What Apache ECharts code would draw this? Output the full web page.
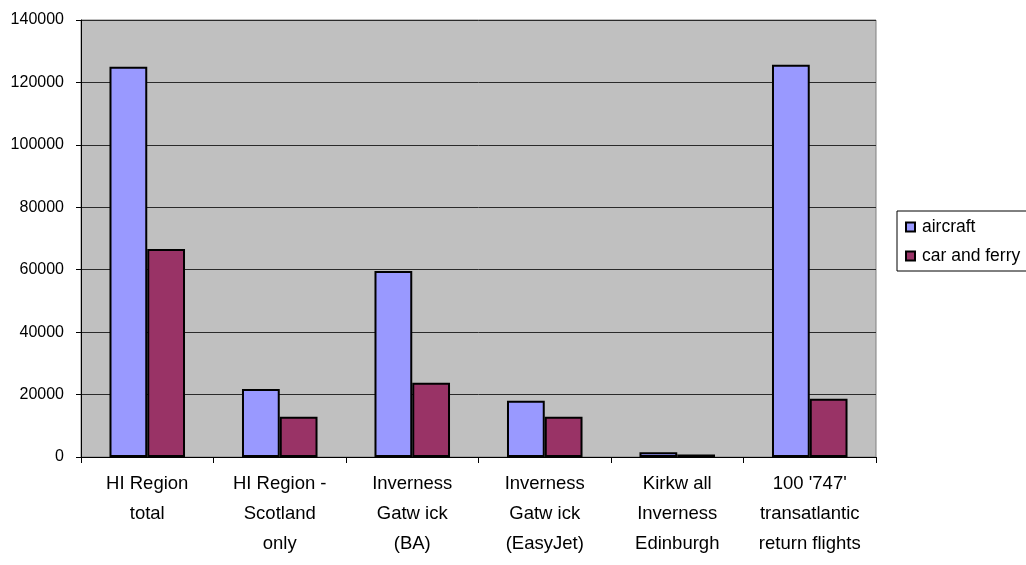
<!DOCTYPE html>
<html>
<head>
<meta charset="utf-8">
<script src="https://cdn.jsdelivr.net/npm/echarts@6/dist/echarts.min.js"></script>
<style>
  html, body { margin: 0; padding: 0; background: #fff; }
  #main { width: 1026px; height: 565px; }
</style>
</head>
<body>
<div id="main"></div>
<script>
// categories as shown under the axis
const categories = [
  'HI Region\ntotal',
  'HI Region -\nScotland\nonly',
  'Inverness\nGatw ick\n(BA)',
  'Inverness\nGatw ick\n(EasyJet)',
  'Kirkw all\nInverness\nEdinburgh',
  "100 '747'\ntransatlantic\nreturn flights"
];
const aircraft = [125000, 21800, 59600, 18000, 1500, 125700];
const carAndFerry = [66600, 12900, 23800, 12900, 800, 18700];
const yTicks = { min: 0, max: 140000, step: 20000 };

const myChart = echarts.init(document.getElementById('main'));

const option = {
  animation: false,
  textStyle: { fontFamily: 'Liberation Sans, Arial, sans-serif', color: '#000' },
  grid: {
    left: 81,
    right: 150,
    top: 20,
    bottom: 108,
    show: true,
    backgroundColor: '#c0c0c0',
    borderColor: '#808080',
    borderWidth: 1
  },
  legend: {
    orient: 'vertical',
    left: 897,
    top: 211,
    padding: [7, 30, 6, 8],
    itemWidth: 9,
    itemHeight: 9,
    itemGap: 11,
    borderColor: '#000',
    borderWidth: 1,
    backgroundColor: '#fff',
    icon: 'rect',
    textStyle: { fontSize: 17.5, color: '#000', padding: [0, 0, 0, 2] },
    data: ['aircraft', 'car and ferry']
  },
  xAxis: {
    type: 'category',
    data: categories,
    axisLine: { lineStyle: { color: '#000', width: 1 } },
    axisTick: { show: true, length: 6, lineStyle: { color: '#000' } },
    axisLabel: {
      color: '#000',
      fontSize: 18.5,
      lineHeight: 30,
      margin: 12,
      interval: 0
    }
  },
  yAxis: {
    type: 'value',
    min: yTicks.min,
    max: yTicks.max,
    interval: yTicks.step,
    axisLine: { show: true, lineStyle: { color: '#000', width: 1 } },
    axisTick: { show: true, length: 5, lineStyle: { color: '#000' } },
    axisLabel: { color: '#000', fontSize: 16, margin: 17, formatter: (v) => String(v) },
    splitLine: { lineStyle: { color: '#2a2a2a', width: 1 } }
  },
  series: [
    {
      name: 'aircraft',
      type: 'bar',
      data: aircraft,
      barGap: '0%',
      barCategoryGap: '43%',
      itemStyle: { color: '#9999ff', borderColor: '#000', borderWidth: 2 }
    },
    {
      name: 'car and ferry',
      type: 'bar',
      data: carAndFerry,
      itemStyle: { color: '#993366', borderColor: '#000', borderWidth: 2 }
    }
  ]
};

myChart.setOption(option);
</script>
</body>
</html>
